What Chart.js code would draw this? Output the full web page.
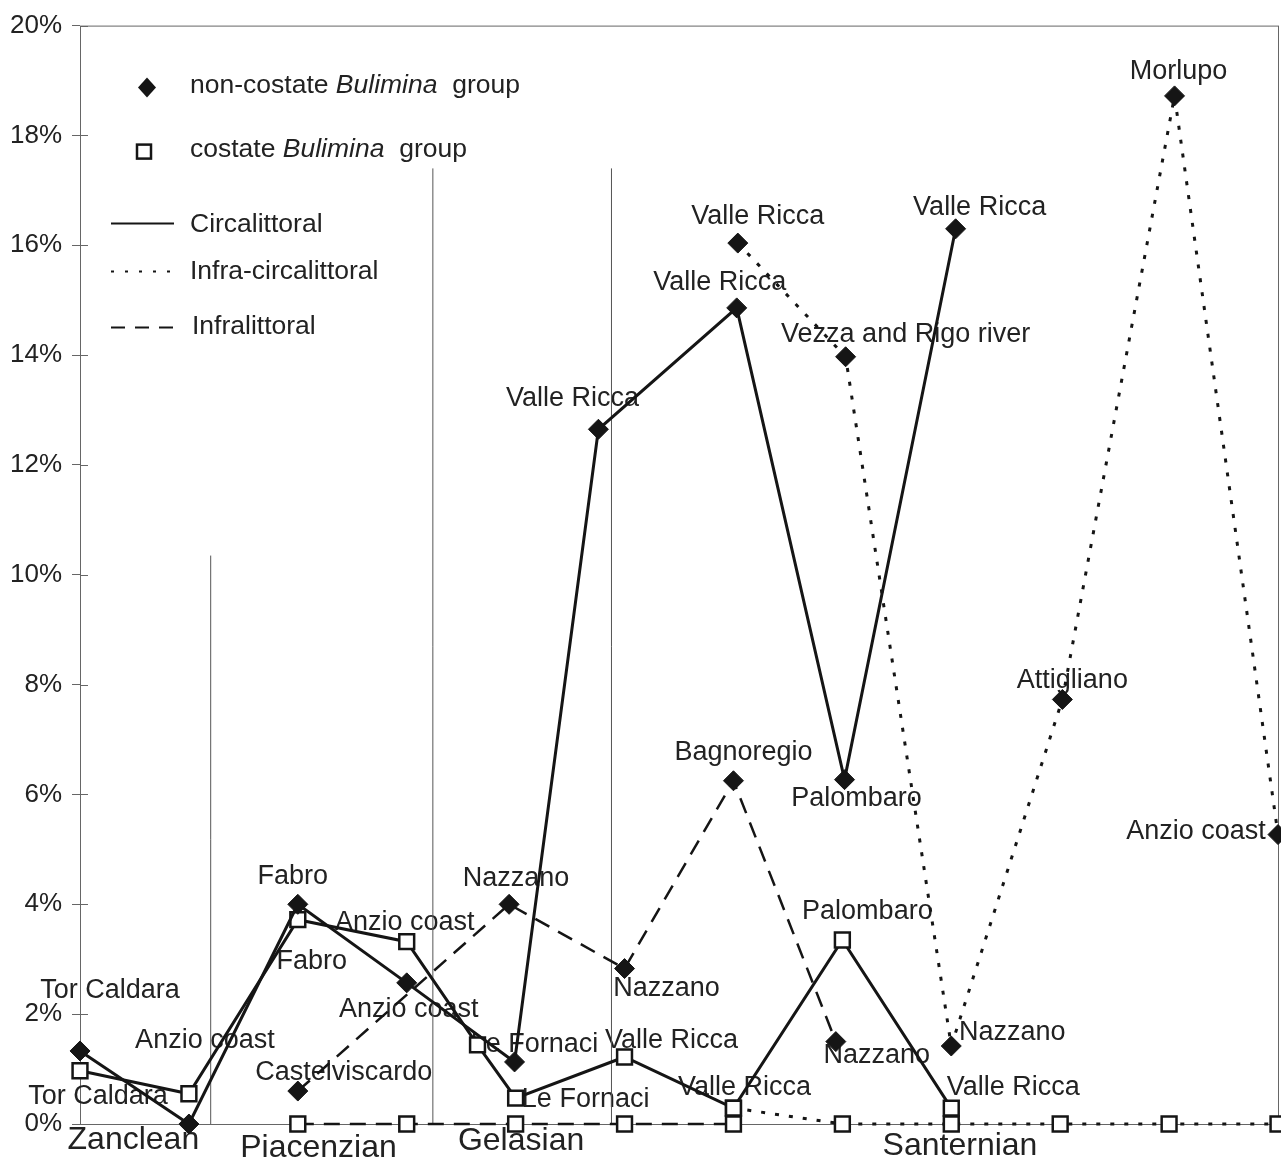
<!DOCTYPE html>
<html>
<head>
<meta charset="utf-8">
<script src="https://cdn.jsdelivr.net/npm/chart.js@4"></script>
<style>
  html, body { margin: 0; padding: 0; background: #fff; }
  #wrap { width: 1281px; height: 1161px; }
</style>
</head>
<body>
<div id="wrap"><canvas id="myChart"></canvas></div>
<script>
Chart.defaults.font.family = '"Liberation Sans", Arial, sans-serif';
Chart.defaults.font.size = 26;
Chart.defaults.color = '#222';

// y axis ticks (percent)
const yTicks = [0, 2, 4, 6, 8, 10, 12, 14, 16, 18, 20];

// stages along the x axis
const periods = ['Zanclean', 'Piacenzian', 'Gelasian', 'Santernian'];
const periodX = [0.49, 2.19, 4.05, 8.08];

// stage boundaries: position and height (%)
const boundX = [1.2, 3.24, 4.88];
const boundTop = [10.35, 17.4, 17.4];

// non-costate Bulimina group, circalittoral
const ncCircaX = [0, 1, 2, 3, 3.99, 4.76, 6.03, 7.02, 8.04];
const ncCircaY = [1.33, 0, 4.0, 2.57, 1.13, 12.65, 14.86, 6.27, 16.3];
const ncCircaSites = ['Tor Caldara', '', 'Fabro', 'Anzio coast', '', 'Valle Ricca', 'Valle Ricca', 'Palombaro', 'Valle Ricca'];

// costate Bulimina group, circalittoral
const cCircaX = [0, 1, 2, 3, 3.65, 4, 5, 6, 7, 8];
const cCircaY = [0.97, 0.55, 3.72, 3.32, 1.44, 0.47, 1.22, 0.29, 3.35, 0.29];
const cCircaSites = ['Tor Caldara', 'Anzio coast', 'Fabro', 'Anzio coast', 'Le Fornaci', 'Le Fornaci', 'Valle Ricca', 'Valle Ricca', 'Palombaro', 'Valle Ricca'];

// non-costate, infra-circalittoral
const ncInfraCircaX = [6.04, 7.03, 8.0, 9.02, 10.05, 11];
const ncInfraCircaY = [16.04, 13.97, 1.42, 7.73, 18.72, 5.27];
const ncInfraCircaSites = ['Valle Ricca', 'Vezza and Rigo river', 'Nazzano', 'Attigliano', 'Morlupo', 'Anzio coast'];

// costate, infra-circalittoral
const cInfraCircaX = [6, 7, 8, 9, 10, 11];
const cInfraCircaY = [0.29, 0, 0, 0, 0, 0];

// non-costate, infralittoral
const ncInfraX = [2, 3.94, 5.0, 6.0, 6.94];
const ncInfraY = [0.6, 4.0, 2.83, 6.25, 1.5];
const ncInfraSites = ['Castelviscardo', 'Nazzano', 'Nazzano', 'Bagnoregio', 'Nazzano'];

// costate, infralittoral
const cInfraX = [2, 3, 4, 5, 6];
const cInfraY = [0, 0, 0, 0, 0];

// label offsets from their point, in pixels
const ncCircaOffsets = [[30, -60], null, [-5, -28], [2, 27], null, [-26, -31], [-17, -25], [12, 19], [24, -21]];
const cCircaOffsets = [[18, 26], [16, -53], [14, 42], [-2, -19], [57, 0], [70, 1], [47, -16], [11, -21], [25, -28], [62, -21]];
const ncInfraCircaOffsets = [[20, -27], [60, -22], [61, -13], [10, -19], [4, -24], [-82, -3]];
const ncInfraOffsets = [[46, -19], [7, -26], [42, 20], [10, -28], [41, 14]];

const pts = (xs, ys) => xs.map((x, i) => ({ x: x, y: ys[i] }));

const INK = '#151515';
const DOT = [4, 10];
const DASH = [16, 10];
const LABEL_FONT = '27px "Liberation Sans", Arial, sans-serif';

const diamond = { pointStyle: 'rectRot', pointRadius: 10, pointBackgroundColor: INK, pointBorderColor: INK, pointBorderWidth: 1 };
const square = { pointStyle: 'rect', pointRadius: 10.5, pointBackgroundColor: '#fff', pointBorderColor: INK, pointBorderWidth: 2.5 };

const datasets = [
  Object.assign({ label: 'non-costate Circalittoral', data: pts(ncCircaX, ncCircaY), borderColor: INK, borderWidth: 3, sites: ncCircaSites, offsets: ncCircaOffsets }, diamond),
  Object.assign({ label: 'costate Circalittoral', data: pts(cCircaX, cCircaY), borderColor: INK, borderWidth: 3, sites: cCircaSites, offsets: cCircaOffsets }, square),
  Object.assign({ label: 'non-costate Infra-circalittoral', data: pts(ncInfraCircaX, ncInfraCircaY), borderColor: INK, borderWidth: 3, borderDash: DOT, sites: ncInfraCircaSites, offsets: ncInfraCircaOffsets }, diamond),
  Object.assign({ label: 'costate Infra-circalittoral', data: pts(cInfraCircaX, cInfraCircaY), borderColor: INK, borderWidth: 3, borderDash: DOT }, square),
  Object.assign({ label: 'non-costate Infralittoral', data: pts(ncInfraX, ncInfraY), borderColor: INK, borderWidth: 2.5, borderDash: DASH, sites: ncInfraSites, offsets: ncInfraOffsets }, diamond),
  Object.assign({ label: 'costate Infralittoral', data: pts(cInfraX, cInfraY), borderColor: INK, borderWidth: 2.5, borderDash: DASH }, square)
];

// stage boundary lines
boundX.forEach((bx, i) => {
  datasets.push({
    label: 'boundary ' + (i + 1),
    data: [{ x: bx, y: 0 }, { x: bx, y: boundTop[i] }],
    borderColor: '#555',
    borderWidth: 1,
    pointRadius: 0
  });
});

// labels, stage names, frame and legend
const annotations = {
  id: 'annotations',
  beforeDatasetsDraw(chart) {
    const ctx = chart.ctx;
    const xs = chart.scales.x, ys = chart.scales.y;
    const area = chart.chartArea;
    ctx.save();

    // frame
    ctx.strokeStyle = '#666';
    ctx.lineWidth = 1;
    ctx.strokeRect(area.left + 0.5, area.top + 0.5, area.right - area.left, area.bottom - area.top);
    ys.ticks.forEach(t => {
      const py = Math.round(ys.getPixelForValue(t.value)) + 0.5;
      ctx.beginPath();
      ctx.moveTo(area.left, py);
      ctx.lineTo(area.left + 8, py);
      ctx.stroke();
    });

    // site labels
    ctx.fillStyle = '#222';
    ctx.font = LABEL_FONT;
    ctx.textAlign = 'center';
    ctx.textBaseline = 'middle';
    chart.data.datasets.forEach((ds, i) => {
      if (!ds.sites) return;
      const meta = chart.getDatasetMeta(i);
      ds.sites.forEach((s, j) => {
        if (!s) return;
        const p = meta.data[j];
        const o = ds.offsets[j];
        ctx.fillText(s, p.x + o[0], p.y + o[1]);
      });
    });

    // stage names
    ctx.font = '32px "Liberation Sans", Arial, sans-serif';
    const periodDy = [16, 24, 17, 22];
    periods.forEach((p, i) => {
      ctx.fillText(p, xs.getPixelForValue(periodX[i]), area.bottom + periodDy[i]);
    });

    // legend
    const L = area.left, T = area.top;
    ctx.textAlign = 'left';
    const row = (parts, x, y) => {
      parts.forEach(part => {
        ctx.font = (part[1] ? 'italic ' : '') + '26.5px "Liberation Sans", Arial, sans-serif';
        ctx.fillText(part[0], x, y);
        x += ctx.measureText(part[0]).width;
      });
    };
    // diamond
    ctx.fillStyle = INK;
    ctx.beginPath();
    ctx.moveTo(L + 67, T + 52); ctx.lineTo(L + 76, T + 62); ctx.lineTo(L + 67, T + 72); ctx.lineTo(L + 58, T + 62);
    ctx.closePath();
    ctx.fill();
    ctx.fillStyle = '#222';
    row([['non-costate ', false], ['Bulimina', true], ['  group', false]], L + 110, T + 60);
    // square
    ctx.strokeStyle = INK;
    ctx.lineWidth = 2.5;
    ctx.strokeRect(L + 57, T + 119, 14, 14);
    row([['costate ', false], ['Bulimina', true], ['  group', false]], L + 110, T + 124);
    // line styles
    const sample = (dash, y, x2) => {
      ctx.setLineDash(dash);
      ctx.lineWidth = 2;
      ctx.beginPath();
      ctx.moveTo(L + 31, y);
      ctx.lineTo(L + x2, y);
      ctx.stroke();
    };
    sample([], T + 198, 94);
    sample([3, 11], T + 246, 94);
    sample([14, 10], T + 302, 94);
    ctx.setLineDash([]);
    row([['Circalittoral', false]], L + 110, T + 199);
    row([['Infra-circalittoral', false]], L + 110, T + 246);
    row([['Infralittoral', false]], L + 112, T + 301);

    ctx.restore();
  }
};

const config = {
  type: 'line',
  data: { datasets: datasets },
  options: {
    responsive: true,
    maintainAspectRatio: false,
    animation: false,
    layout: { autoPadding: false, padding: { top: 25, right: 3, left: 0, bottom: 0 } },
    plugins: {
      legend: { display: false },
      tooltip: { enabled: false }
    },
    elements: { line: { tension: 0, fill: false } },
    datasets: { line: { clip: false } },
    scales: {
      x: {
        type: 'linear',
        min: 0,
        max: 11,
        grid: { display: false },
        border: { display: false },
        ticks: { display: false },
        afterFit: s => { s.height = 37; s.paddingLeft = 0; s.paddingRight = 0; }
      },
      y: {
        min: 0,
        max: 20,
        afterBuildTicks: s => { s.ticks = yTicks.map(v => ({ value: v })); },
        ticks: {
          padding: 10,
          color: '#222',
          font: { size: 26 },
          callback: v => v + '%'
        },
        grid: { drawOnChartArea: false, tickLength: 8, color: '#666' },
        border: { display: false },
        afterFit: s => { s.width = 80; }
      }
    }
  },
  plugins: [annotations]
};

const myChart = new Chart(document.getElementById('myChart'), config);
</script>
</body>
</html>
